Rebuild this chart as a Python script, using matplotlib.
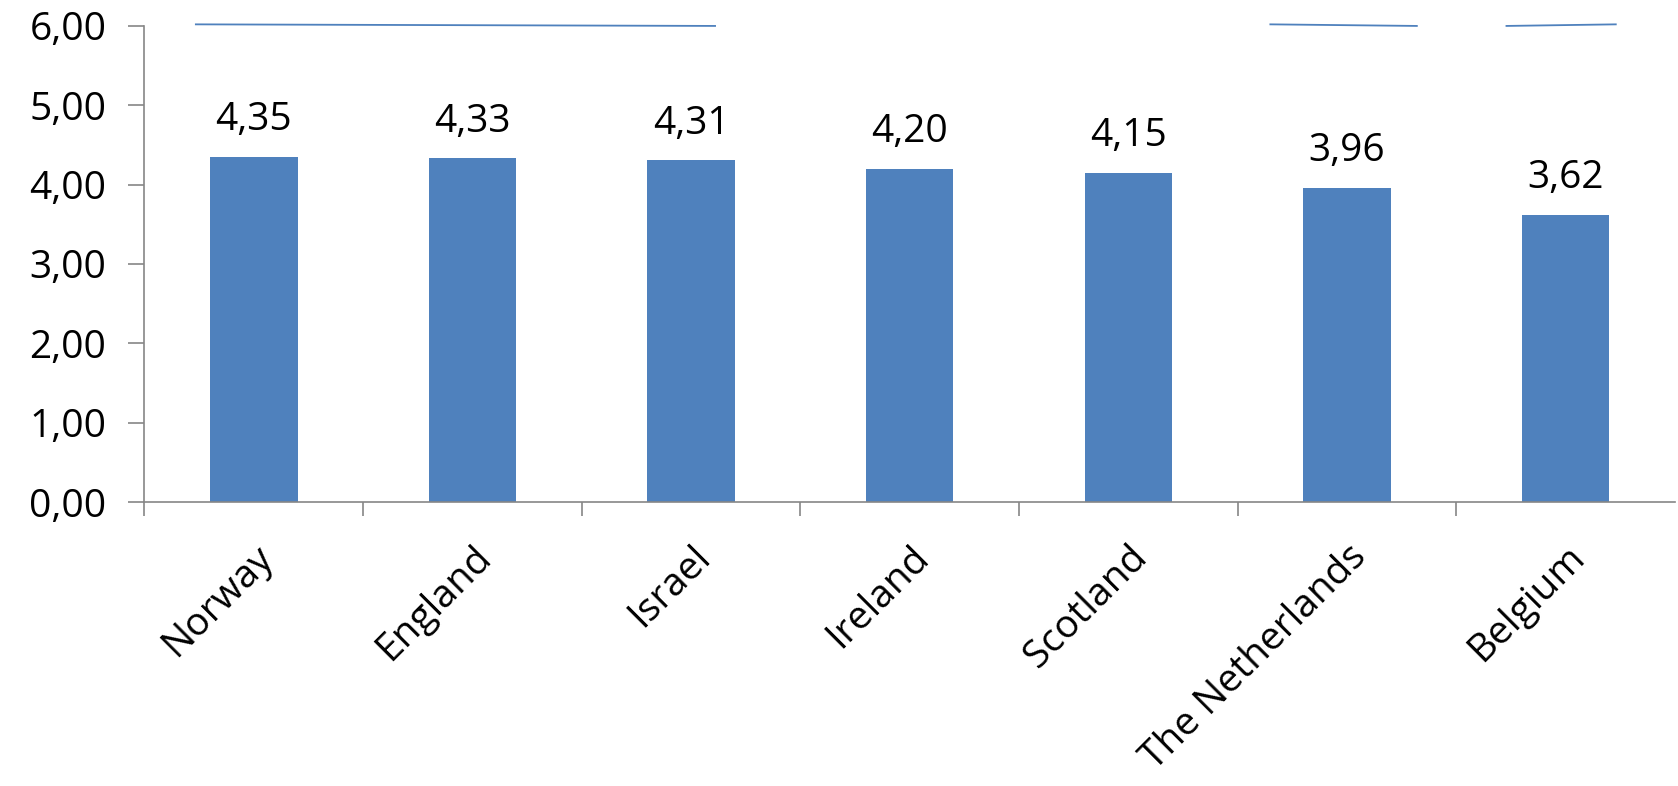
import numpy as np
import matplotlib.pyplot as plt

countries = ["Norway", "England", "Israel", "Ireland", "Scotland", "The Netherlands", "Belgium"]
scores = [4.35, 4.33, 4.31, 4.20, 4.15, 3.96, 3.62]

# thin line pieces along the top of the plot (category units, value)
top_segments = [
    ([-0.265, 2.11], [6.02, 6.00]),
    ([4.65, 5.32], [6.02, 6.00]),
    ([5.73, 6.23], [6.00, 6.02]),
]

bar_color = "#4F81BD"
axis_color = "#868686"

plt.rcParams['font.family'] = ['Open Sans', 'DejaVu Sans']

fig = plt.figure(figsize=(16.78, 7.86), dpi=100)
ax = fig.add_axes([0.0861, 0.3613, 0.912, 0.6057])

x = np.arange(len(countries))
ax.bar(x, scores, width=0.40, color=bar_color, zorder=2)

for xi, v in zip(x, scores):
    ax.text(xi, v + 0.22, f"{v:.2f}".replace(".", ","), ha="center", va="bottom",
            fontsize=28, color="black")

for sx, sy in top_segments:
    ax.plot(sx, sy, color=bar_color, lw=1.3, clip_on=False, zorder=3)

ax.set_xlim(-0.5, len(countries) - 0.5)
ax.set_ylim(0, 6)
ax.set_yticks(np.arange(0, 7, 1))
ax.set_yticklabels([f"{v:.2f}".replace(".", ",") for v in np.arange(0, 7, 1)], fontsize=28)

ax.set_xticks(x)
ax.set_xticklabels(countries, rotation=45, ha="right", rotation_mode="anchor", fontsize=28)
ax.set_xticks(np.arange(-0.5, len(countries) - 0.5, 1), minor=True)
ax.tick_params(axis="x", which="major", length=0, pad=26)
ax.tick_params(axis="x", which="minor", length=10, width=1.2, color=axis_color)
ax.tick_params(axis="y", length=11.5, width=1.2, color=axis_color, pad=16)

for s in ["top", "right"]:
    ax.spines[s].set_visible(False)
for s in ["left", "bottom"]:
    ax.spines[s].set_color(axis_color)
    ax.spines[s].set_linewidth(1.2)

fig.savefig("out.png", dpi=100)
